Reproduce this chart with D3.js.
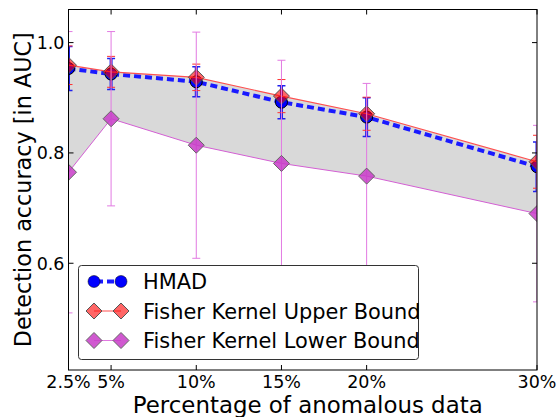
<!DOCTYPE html>
<html>
<head>
<meta charset="utf-8">
<script src="https://cdn.jsdelivr.net/npm/d3@7"></script>
<style>
  body { margin: 0; background: #fff; }
  svg { font-family: "DejaVu Sans", sans-serif; }
</style>
</head>
<body>
<div id="chart"></div>
<script>
{
  const { d3 } = window;

  // data
  const percents = [2.5, 5, 10, 15, 20, 30];
  const tickLabels = ['2.5%', '5%', '10%', '15%', '20%', '30%'];
  const yTicks = [0.6, 0.8, 1.0];

  const hmad = [0.953, 0.943, 0.929, 0.892, 0.865, 0.775];
  const hmadErr = [0.040, 0.028, 0.027, 0.030, 0.035, 0.045];

  const upper = [0.959, 0.947, 0.937, 0.903, 0.871, 0.784];
  const upperErr = [0.035, 0.028, 0.024, 0.030, 0.030, 0.048];

  const lower = [0.765, 0.862, 0.814, 0.781, 0.758, 0.690];
  const lowerErr = [0.255, 0.158, 0.205, 0.187, 0.168, 0.160];

  const width = 558;
  const height = 417;
  const plot = { left: 68.5, right: 537, top: 9.5, bottom: 370 };

  const svg = d3.select('#chart').append('svg')
    .attr('width', width)
    .attr('height', height);

  const x = d3.scaleLinear().domain([2.5, 30]).range([plot.left, plot.right]);
  const y = d3.scaleLinear().domain([0.4065, 1.06]).range([plot.bottom, plot.top]);

  svg.append('clipPath').attr('id', 'clip')
    .append('rect')
    .attr('x', plot.left).attr('y', plot.top)
    .attr('width', plot.right - plot.left)
    .attr('height', plot.bottom - plot.top);

  const g = svg.append('g').attr('clip-path', 'url(#clip)');

  // shaded band between the two Fisher kernel bounds
  const area = d3.area()
    .x((d, i) => x(percents[i]))
    .y0((d, i) => y(lower[i]))
    .y1((d) => y(d));
  g.append('path')
    .datum(upper)
    .attr('d', area)
    .attr('fill', '#d9d9d9');

  function line(values) {
    return d3.line().x((d, i) => x(percents[i])).y((d) => y(d))(values);
  }

  function errorBars(values, errs, color, w, cap) {
    const eb = g.append('g');
    values.forEach((v, i) => {
      const cx = x(percents[i]);
      eb.append('line')
        .attr('x1', cx).attr('x2', cx)
        .attr('y1', y(v - errs[i])).attr('y2', y(v + errs[i]))
        .attr('stroke', color).attr('stroke-width', w);
      [v - errs[i], v + errs[i]].forEach((e) => {
        eb.append('line')
          .attr('x1', cx - cap).attr('x2', cx + cap)
          .attr('y1', y(e)).attr('y2', y(e))
          .attr('stroke', color).attr('stroke-width', w > 1.5 ? 1.5 : 1);
      });
    });
  }

  const diamond = (s) => `M0,${-s}L${s},0L0,${s}L${-s},0Z`;

  // HMAD
  g.append('path')
    .attr('d', line(hmad))
    .attr('fill', 'none')
    .attr('stroke', '#1a1aff')
    .attr('stroke-width', 4)
    .attr('stroke-dasharray', '7,4');
  errorBars(hmad, hmadErr, '#2020ee', 3, 4);
  g.selectAll('.hmad').data(hmad).join('circle')
    .attr('cx', (d, i) => x(percents[i]))
    .attr('cy', (d) => y(d))
    .attr('r', 6)
    .attr('fill', '#0000ff')
    .attr('stroke', '#000')
    .attr('stroke-width', 1);

  // Fisher kernel upper bound
  g.append('path')
    .attr('d', line(upper))
    .attr('fill', 'none')
    .attr('stroke', '#ff5050')
    .attr('stroke-width', 1.2);
  errorBars(upper, upperErr, '#ff3030', 1, 4);
  g.selectAll('.up').data(upper).join('path')
    .attr('transform', (d, i) => `translate(${x(percents[i])},${y(d)})`)
    .attr('d', diamond(8))
    .attr('fill', 'rgba(255,0,0,0.6)')
    .attr('stroke', '#555')
    .attr('stroke-width', 1);

  // Fisher kernel lower bound
  g.append('path')
    .attr('d', line(lower))
    .attr('fill', 'none')
    .attr('stroke', '#d35fd3')
    .attr('stroke-width', 1);
  errorBars(lower, lowerErr, '#e27ae2', 1, 4);
  g.selectAll('.low').data(lower).join('path')
    .attr('transform', (d, i) => `translate(${x(percents[i])},${y(d)})`)
    .attr('d', diamond(8))
    .attr('fill', 'rgba(200,60,200,0.85)')
    .attr('stroke', '#666')
    .attr('stroke-width', 1);

  // frame and ticks (classic inward ticks on all sides)
  svg.append('rect')
    .attr('x', plot.left).attr('y', plot.top)
    .attr('width', plot.right - plot.left)
    .attr('height', plot.bottom - plot.top)
    .attr('fill', 'none')
    .attr('stroke', '#000')
    .attr('stroke-width', 1);

  const tickLen = 5;
  percents.forEach((p, i) => {
    const px = x(p);
    svg.append('line').attr('x1', px).attr('x2', px)
      .attr('y1', plot.bottom).attr('y2', plot.bottom - tickLen).attr('stroke', '#000');
    svg.append('line').attr('x1', px).attr('x2', px)
      .attr('y1', plot.top).attr('y2', plot.top + tickLen).attr('stroke', '#000');
    svg.append('text')
      .attr('x', px).attr('y', 388)
      .attr('text-anchor', 'middle')
      .attr('font-size', 17.5)
      .text(tickLabels[i]);
  });

  yTicks.forEach((t) => {
    const py = y(t);
    svg.append('line').attr('x1', plot.left).attr('x2', plot.left + tickLen)
      .attr('y1', py).attr('y2', py).attr('stroke', '#000');
    svg.append('line').attr('x1', plot.right).attr('x2', plot.right - tickLen)
      .attr('y1', py).attr('y2', py).attr('stroke', '#000');
    svg.append('text')
      .attr('x', plot.left - 4).attr('y', py)
      .attr('dy', '0.36em')
      .attr('text-anchor', 'end')
      .attr('font-size', 17.5)
      .text(d3.format('.1f')(t));
  });

  // axis labels
  svg.append('text')
    .attr('x', (plot.left + plot.right) / 2 + 5).attr('y', 413)
    .attr('text-anchor', 'middle')
    .attr('font-size', 22.9)
    .text('Percentage of anomalous data');

  svg.append('text')
    .attr('transform', `translate(31,${(plot.top + plot.bottom) / 2}) rotate(-90)`)
    .attr('text-anchor', 'middle')
    .attr('font-size', 22.3)
    .text('Detection accuracy [in AUC]');

  // legend
  const legend = svg.append('g');
  legend.append('rect')
    .attr('x', 78.5).attr('y', 265.5)
    .attr('width', 340).attr('height', 94)
    .attr('rx', 3)
    .attr('fill', '#fff')
    .attr('stroke', '#333')
    .attr('stroke-width', 1);

  const entries = [
    { label: 'HMAD', y: 281.5 },
    { label: 'Fisher Kernel Upper Bound', y: 311 },
    { label: 'Fisher Kernel Lower Bound', y: 340.5 },
  ];
  const lx0 = 94;
  const lx1 = 121;

  legend.append('line')
    .attr('x1', lx0).attr('x2', lx1)
    .attr('y1', entries[0].y).attr('y2', entries[0].y)
    .attr('stroke', '#1a1aff').attr('stroke-width', 4)
    .attr('stroke-dasharray', '7,4').attr('stroke-dashoffset', -2);
  [lx0, lx1].forEach((cx) => {
    legend.append('circle')
      .attr('cx', cx).attr('cy', entries[0].y).attr('r', 6)
      .attr('fill', '#0000ff').attr('stroke', '#000').attr('stroke-width', 0.5);
  });

  legend.append('line')
    .attr('x1', lx0).attr('x2', lx1)
    .attr('y1', entries[1].y).attr('y2', entries[1].y)
    .attr('stroke', '#ff5050').attr('stroke-width', 1);
  [lx0, lx1].forEach((cx) => {
    legend.append('path')
      .attr('transform', `translate(${cx},${entries[1].y})`)
      .attr('d', diamond(8))
      .attr('fill', 'rgba(255,0,0,0.6)').attr('stroke', '#555');
  });

  legend.append('line')
    .attr('x1', lx0).attr('x2', lx1)
    .attr('y1', entries[2].y).attr('y2', entries[2].y)
    .attr('stroke', '#e27ae2').attr('stroke-width', 1);
  [lx0, lx1].forEach((cx) => {
    legend.append('path')
      .attr('transform', `translate(${cx},${entries[2].y})`)
      .attr('d', diamond(8))
      .attr('fill', 'rgba(200,60,200,0.85)').attr('stroke', '#666');
  });

  entries.forEach((e) => {
    legend.append('text')
      .attr('x', 143).attr('y', e.y)
      .attr('dy', '0.36em')
      .attr('font-size', 20.9)
      .text(e.label);
  });
}
</script>
</body>
</html>
